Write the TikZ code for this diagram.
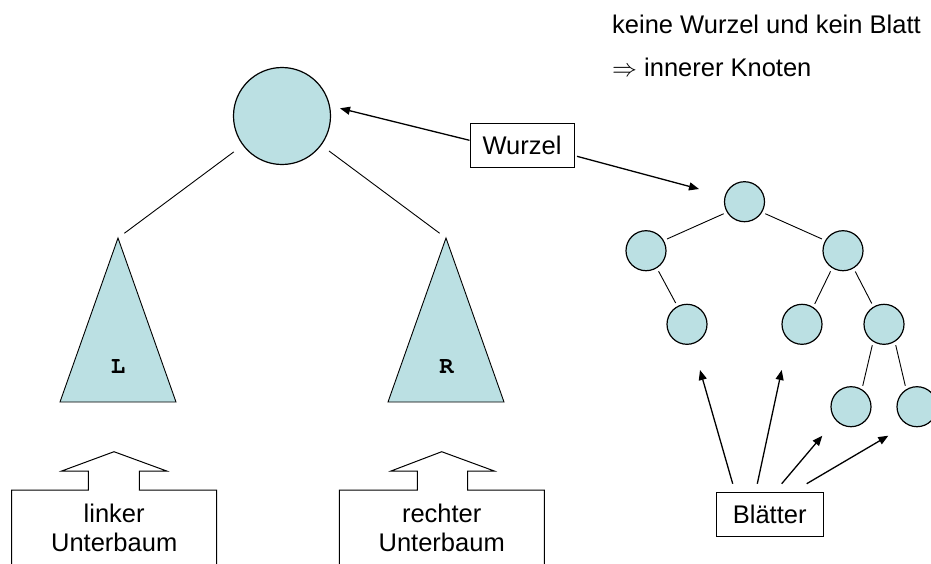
\documentclass[tikz,border=0pt]{standalone}
\usepackage{fontspec}
\setmainfont{Liberation Sans}
\usetikzlibrary{arrows.meta,calc}
\definecolor{fillc}{RGB}{187,224,227}
\newcommand{\courb}{\fontencoding{OT1}\fontfamily{pcr}\fontseries{b}\fontsize{24}{24}\selectfont}
\begin{document}
\begin{tikzpicture}[x=1pt,y=-1pt,
  lbl/.style={font=\fontsize{25.5}{28.7}\selectfont, inner sep=0pt},
  bignode/.style={circle, draw, fill=fillc, line width=1.2pt, minimum size=97pt, inner sep=0pt},
  tnode/.style={circle, draw, fill=fillc, line width=1.2pt, minimum size=40pt, inner sep=0pt},
  edge/.style={line width=0.9pt, shorten <=3.5pt, shorten >=3.5pt},
  arr/.style={line width=1.3pt, -{Triangle[length=10pt,width=8pt]}},
  box/.style={draw, line width=1pt, lbl, minimum height=44pt},
  tri/.style={draw, fill=fillc, line width=0.9pt},
  blk/.style={draw, line width=1pt},
  mono/.style={font=\courb, inner sep=0pt}]
\useasboundingbox (0,0) rectangle (931,563);
\clip (0,0) rectangle (931,563);

% top text
\node[lbl, anchor=base west] (t1) at (612,33.3) {keine Wurzel und kein Blatt};
\node[lbl, anchor=base west] (t2) at (612,76) {$\Rightarrow$ innerer Knoten};

% big root and subtrees
\node[bignode] (big) at (282,116) {};
\coordinate (Ltop) at (118,238);
\filldraw[tri] (Ltop) -- (60,402) -- (176,402) -- cycle;
\node[mono] (Llab) at (118,367) {L};
\coordinate (Rtop) at (446,238);
\filldraw[tri] (Rtop) -- (388,402) -- (504,402) -- cycle;
\node[mono] (Rlab) at (446.5,367) {R};
\draw[line width=0.9pt, shorten <=11pt, shorten >=8pt] (big) -- (Ltop);
\draw[line width=0.9pt, shorten <=9.5pt, shorten >=8pt] (big) -- (Rtop);

% Wurzel
\node[box, minimum width=104pt] (W) at (522,145.3) {Wurzel};
\coordinate (wt1) at (340,108.3);
\coordinate (wt2) at (699,189);
\draw[arr] ([yshift=5pt]W.west) -- (wt1);
\draw[arr] ([xshift=2.5pt,yshift=-11pt]W.east) -- (wt2);

% small tree
\node[tnode] (S0) at (744.5,201.7) {};
\node[tnode] (A) at (646,250.7) {};
\node[tnode] (B) at (843,250.7) {};
\node[tnode] (A1) at (687,324.3) {};
\node[tnode] (B1) at (802,324.3) {};
\node[tnode] (B2) at (884,324.3) {};
\node[tnode] (C1) at (851,406.7) {};
\node[tnode] (C2) at (917,406.7) {};
\draw[edge] (S0.-149) -- (A.30);
\draw[edge] (S0.-31) -- (B.150);
\draw[edge] (A.-58) -- (A1.118);
\draw[edge] (B.-122) -- (B1.57);
\draw[edge] (B.-59) -- (B2.121);
\draw[edge] (B2.-122) -- (C1.58);
\draw[edge] (B2.-58) -- (C2.122);

% Blaetter
\node[box, minimum width=107pt] (Bl) at (769.7,514.2) {Blätter};
\coordinate (b1) at (700,370);
\coordinate (b2) at (781.7,370);
\coordinate (b3) at (822.3,435.7);
\coordinate (b4) at (888.3,435.7);
\draw[arr] ([xshift=-37pt,yshift=8pt]Bl.north) -- (b1);
\draw[arr] ([xshift=-12.4pt,yshift=8pt]Bl.north) -- (b2);
\draw[arr] ([xshift=12pt,yshift=8pt]Bl.north) -- (b3);
\draw[arr] ([xshift=37pt,yshift=8pt]Bl.north) -- (b4);

% block arrows
\draw[blk] (11.7,566) -- (11.7,490) -- (88.3,490) -- (88.3,471) -- (61.7,471) -- (114,451.7) -- (166.7,471) -- (139.3,471) -- (139.3,490) -- (216.7,490) -- (216.7,566);
\node[lbl, align=center] (lu) at (114.2,528) {linker\\Unterbaum};
\draw[blk] (339.3,566) -- (339.3,490) -- (417.3,490) -- (417.3,471) -- (391,471) -- (441.7,451.7) -- (494.3,471) -- (467.7,471) -- (467.7,490) -- (544.3,490) -- (544.3,566);
\node[lbl, align=center] (ru) at (441.7,528) {rechter\\Unterbaum};
\end{tikzpicture}
\end{document}
